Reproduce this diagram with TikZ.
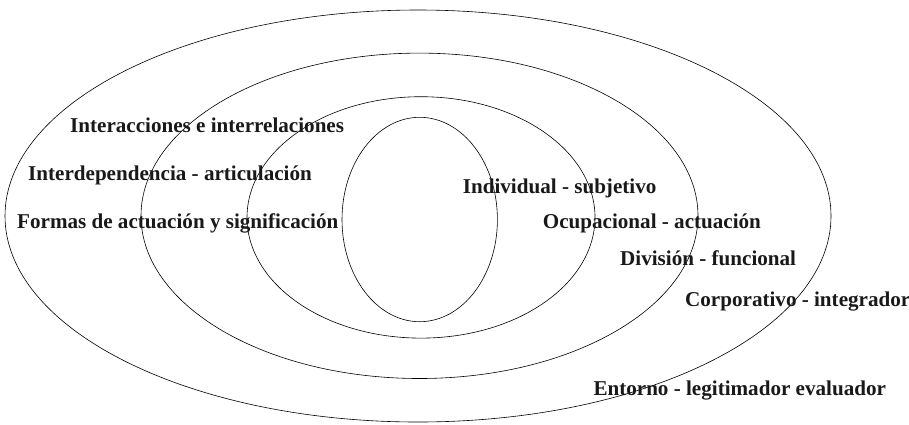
\documentclass[tikz,border=0pt]{standalone}
\usepackage{fontspec}
\setmainfont{Liberation Serif}
\usetikzlibrary{positioning}

\begin{document}
\begin{tikzpicture}[
  x=1pt, y=-1pt, font=\fontsize{21.1}{23}\selectfont\bfseries,
  ring/.style={draw=black, line width=0.6pt},
  lab/.style={anchor=base west, inner sep=0pt, text=black!90}]

\useasboundingbox (0,0) rectangle (909,424);

% the four rings
\draw[ring] (418,216) ellipse [x radius=413, y radius=206];
\draw[ring] (419.5,215.8) ellipse [x radius=278.5, y radius=162.7];
\draw[ring] (421,217.4) ellipse [x radius=174, y radius=120.7];
\draw[ring] (419.7,219.5) ellipse [x radius=77.7, y radius=102.2];

% left labels
\node[lab] (inter) at (70,132.7) {Interacciones e interrelaciones};
\node[lab] (dep)   at (28,180)   {Interdependencia - articulación};
\node[lab] (form)  at (17,228)   {Formas de actuación y significación};

% right labels
\node[lab] (ind) at (462.7,193) {Individual - subjetivo};
\node[lab] (ocu) at (542.7,228.3) {Ocupacional - actuación};
\node[lab] (div) at (620,265)   {División - funcional};
\node[lab] (cor) at (685,306.7) {Corporativo - integrador};
\node[lab] (ent) at (593.3,395) {Entorno - legitimador evaluador};

\end{tikzpicture}
\end{document}
